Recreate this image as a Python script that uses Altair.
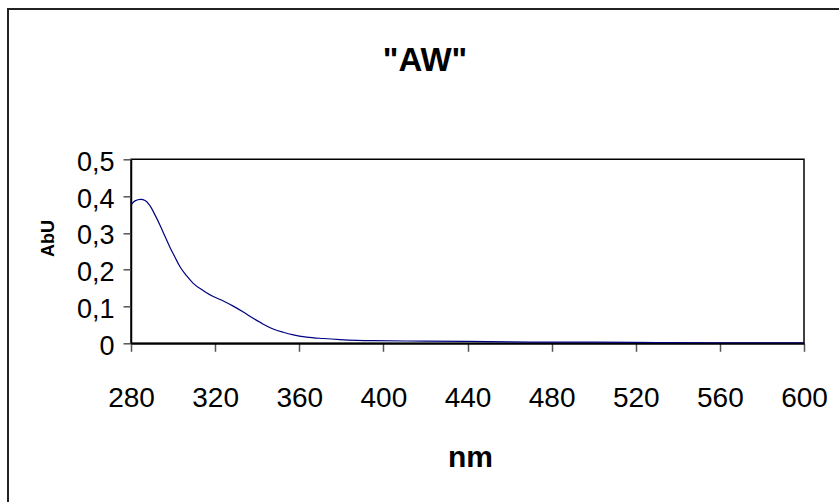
import altair as alt
import pandas as pd

# wavelength (nm) and absorbance
nm = [280, 281.9, 284.6, 286.7, 289.0, 291.4, 293.8, 296.2, 298.5, 300.9,
      303.3, 306.5, 309.6, 314.4, 319.1, 323.9, 328.6, 333.4, 338.1, 342.9,
      347.6, 352.4, 357.2, 363.5, 371.4, 379.3, 387.3, 395.2, 420, 440,
      460, 480, 500, 530, 560, 600]
abu = [0.376, 0.387, 0.391, 0.388, 0.374, 0.349, 0.321, 0.290, 0.261, 0.234,
       0.208, 0.183, 0.163, 0.143, 0.127, 0.115, 0.101, 0.085, 0.068, 0.052,
       0.039, 0.030, 0.023, 0.017, 0.013, 0.010, 0.008, 0.007, 0.006, 0.005,
       0.004, 0.003, 0.003, 0.002, 0.001, 0.001]

x_ticks = [280, 320, 360, 400, 440, 480, 520, 560, 600]
y_ticks = [0, 0.1, 0.2, 0.3, 0.4, 0.5]

title_text = '"AW"'
x_title = "nm"
y_title = "AbU"

FONT = "Liberation Sans, Arial, sans-serif"

df = pd.DataFrame({"nm": nm, "abu": abu})

W, H = 673, 184

border = alt.Chart(df.head(1)).mark_rect(
    fillOpacity=0, stroke="#222222", strokeWidth=2
).encode(
    x=alt.value(-123), x2=alt.value(740), y=alt.value(-150.3), y2=alt.value(370)
)

line = alt.Chart(df).mark_line(
    color="#000080", strokeWidth=1.2, interpolate="monotone", clip=True
).encode(
    x=alt.X("nm:Q",
            scale=alt.Scale(domain=[280, 600], nice=False, zero=False),
            axis=alt.Axis(values=x_ticks, format="d", title=x_title, grid=False,
                          tickSize=8, tickColor="#555555", tickWidth=1.5,
                          domainColor="black", domainWidth=2,
                          labelFont=FONT, labelFontSize=28, labelColor="black",
                          labelBaseline="alphabetic", labelPadding=55,
                          labelFlush=False, labelOverlap=False,
                          titleFont=FONT, titleFontSize=30, titleFontWeight="bold",
                          titleColor="black", titleBaseline="alphabetic",
                          titleAlign="center", titleX=339, titleY=122.7)),
    y=alt.Y("abu:Q",
            scale=alt.Scale(domain=[0, 0.5], nice=False),
            axis=alt.Axis(values=y_ticks, title=y_title, grid=False,
                          labelExpr="datum.value == 0 ? '0' : replace(format(datum.value, '.1f'), '.', ',')",
                          tickSize=8, tickColor="#555555", tickWidth=1.5,
                          domainColor="black", domainWidth=1.5,
                          labelFont=FONT, labelFontSize=27, labelColor="black",
                          labelBaseline="alphabetic", labelOffset=11, labelPadding=9,
                          labelAlign="right", labelFlush=False, labelOverlap=False,
                          titleFont=FONT, titleFontSize=18, titleFontWeight="bold",
                          titleColor="black", titleBaseline="alphabetic",
                          titleAlign="center", titleAngle=270,
                          titleX=-77.7, titleY=78.7)),
)

chart = alt.layer(border, line).properties(
    width=W, height=H,
    background="white",
    title=alt.TitleParams(text=title_text, font=FONT, fontSize=33, fontWeight="bold",
                          color="black", anchor="middle", frame="group",
                          baseline="alphabetic", offset=-96, dx=-42.5),
    autosize=alt.AutoSizeParams(type="none"),
    padding={"left": 131, "top": 159.3, "right": 35, "bottom": 158.7},
).configure_view(
    stroke="#000000", strokeWidth=1.5, strokeOpacity=1
)

chart.save("out.html", embed_options={"renderer": "svg", "actions": False})
